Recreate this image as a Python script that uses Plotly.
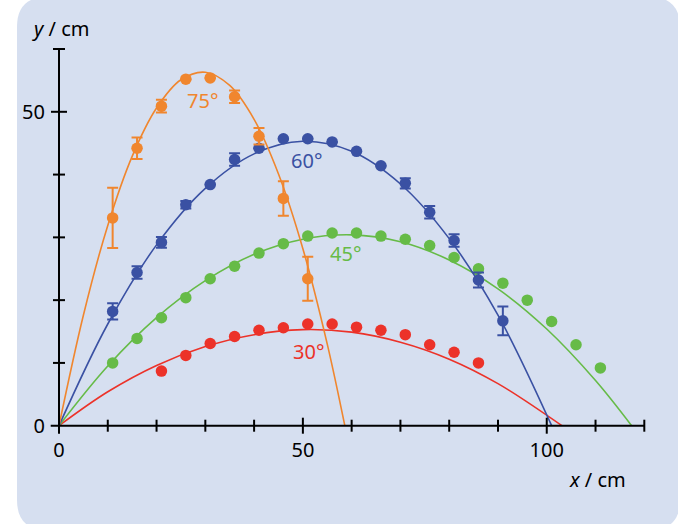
import plotly.graph_objects as go

# measured data points (x in cm, y in cm)
x_75 = [11, 16, 21, 26, 31, 36, 41, 46, 51]
y_75 = [33.1, 44.2, 50.9, 55.2, 55.4, 52.4, 46.1, 36.2, 23.4]
e_75 = [4.8, 1.7, 1.0, None, None, 1.0, 1.3, 2.75, 3.5]

x_60 = [11, 16, 21, 26, 31, 36, 41, 46, 51, 56, 61, 66, 71, 76, 81, 86, 91]
y_60 = [18.2, 24.4, 29.2, 35.2, 38.4, 42.4, 44.2, 45.7, 45.7, 45.2, 43.7,
        41.4, 38.6, 34.0, 29.5, 23.2, 16.7]
e_60 = [1.3, 1.0, 0.85, 0.6, None, 1.0, None, None, None, None, None,
        None, 0.8, 1.0, 1.0, 1.2, 2.3]

x_45 = [11, 16, 21, 26, 31, 36, 41, 46, 51, 56, 61, 66, 71, 76, 81, 86,
        91, 96, 101, 106, 111]
y_45 = [10.0, 13.9, 17.2, 20.4, 23.4, 25.4, 27.5, 29.0, 30.2, 30.7, 30.7,
        30.2, 29.7, 28.7, 26.8, 25.0, 22.7, 20.0, 16.6, 12.9, 9.2]

x_30 = [21, 26, 31, 36, 41, 46, 51, 56, 61, 66, 71, 76, 81, 86]
y_30 = [8.7, 11.2, 13.1, 14.2, 15.2, 15.6, 16.2, 16.2, 15.7, 15.2, 14.5,
        12.9, 11.7, 10.0]

# fitted trajectories
cx_75 = [0, 5, 10, 15, 20, 25, 30, 35, 40, 45, 50, 55, 58.6]
cy_75 = [0, 17.6, 31.9, 42.9, 50.6, 55.1, 56.3, 54.2, 48.8, 40.1, 28.2, 13.0, 0]
cx_60 = [0, 10, 20, 30, 40, 50, 60, 70, 80, 90, 101]
cy_60 = [0, 16.2, 28.8, 37.8, 43.3, 45.3, 43.7, 38.5, 29.8, 17.6, 0]
cx_45 = [0, 10, 20, 30, 40, 50, 60, 70, 80, 90, 100, 110, 117.4]
cy_45 = [0, 9.5, 17.2, 23.1, 27.3, 29.7, 30.4, 29.3, 26.4, 21.8, 15.4, 7.2, 0]
cx_30 = [0, 10, 20, 30, 40, 50, 60, 70, 80, 90, 103.1]
cy_30 = [0, 5.4, 9.6, 12.6, 14.5, 15.3, 14.9, 13.3, 10.6, 6.7, 0]

angle_labels = ["75°", "60°", "45°", "30°"]
label_x = [29.4, 50.8, 58.8, 51.1]
label_y = [51.8, 42.2, 27.5, 11.8]

x_ticks = [10, 20, 30, 40, 50, 60, 70, 80, 90, 100, 110, 120]
y_ticks = [10, 20, 30, 40, 50, 60]
x_ticklabels = [0, 50, 100]
y_ticklabels = [0, 50]

ORANGE = "#F0862E"
BLUE = "#3A51A3"
GREEN = "#66BB47"
RED = "#EC3229"
CARD = "#D6DFF0"
FONT = "Noto Sans"

W, H = 678, 524
ML, MR, MT, MB = 46, 29, 43, 88
X0PX, SX = 59.0, 4.8775      # pixel of x=0, pixels per cm
Y0PX, SY = 425.7, 6.278      # pixel of y=0, pixels per cm
xr = [(ML - X0PX) / SX, (W - MR - X0PX) / SX]
yr = [(Y0PX - (H - MB)) / SY, (Y0PX - MT) / SY]
PW, PH = W - ML - MR, H - MT - MB


def px(xp):
    return (xp - ML) / PW


def py(yp):
    return (H - MB - yp) / PH


fig = go.Figure()

series = [
    (cx_30, cy_30, x_30, y_30, None, RED),
    (cx_45, cy_45, x_45, y_45, None, GREEN),
    (cx_60, cy_60, x_60, y_60, e_60, BLUE),
    (cx_75, cy_75, x_75, y_75, e_75, ORANGE),
]
for cx, cy, mx, my, err, col in series:
    fig.add_trace(go.Scatter(x=cx, y=cy, mode="lines",
                             line=dict(color=col, width=1.6, shape="spline", smoothing=1.0),
                             hoverinfo="skip", showlegend=False, cliponaxis=False))
for cx, cy, mx, my, err, col in series:
    ey = dict(type="data", array=err, visible=True, color=col,
              thickness=2, width=5.5) if err else None
    fig.add_trace(go.Scatter(x=mx, y=my, mode="markers",
                             marker=dict(color=col, size=11.5),
                             error_y=ey, showlegend=False, cliponaxis=False))

# axis lines and tick marks
shapes = [
    dict(type="line", xref="x", yref="y", x0=-1.7, x1=120, y0=0, y1=0,
         line=dict(color="black", width=2)),
    dict(type="line", xref="x", yref="y", x0=0, x1=0, y0=-1.3, y1=60,
         line=dict(color="black", width=2)),
]
for t in x_ticks:
    h = 8 if t % 50 == 0 else 6
    shapes.append(dict(type="line", xref="x", yref="y", ysizemode="pixel",
                       yanchor=0, x0=t, x1=t, y0=-h, y1=h,
                       line=dict(color="black", width=2)))
for t in y_ticks:
    h = 8 if t % 50 == 0 else 6
    shapes.append(dict(type="line", xref="x", yref="y", xsizemode="pixel",
                       xanchor=0, y0=t, y1=t, x0=-h, x1=h,
                       line=dict(color="black", width=2)))

# rounded background card
cl, cr, ct, cb, rad = 17, 680, -3, 530, 30
rx, ry = rad / PW, rad / PH
L, R, T, B = px(cl), px(cr), py(ct), py(cb)
path = (f"M {L + rx},{T} L {R - rx},{T} Q {R},{T} {R},{T - ry} "
        f"L {R},{B + ry} Q {R},{B} {R - rx},{B} L {L + rx},{B} "
        f"Q {L},{B} {L},{B + ry} L {L},{T - ry} Q {L},{T} {L + rx},{T} Z")
shapes.insert(0, dict(type="path", xref="paper", yref="paper", path=path,
                      fillcolor=CARD, line=dict(width=0), layer="below"))

annotations = []
for txt, lx, ly, col in zip(angle_labels, label_x, label_y, [ORANGE, BLUE, GREEN, RED]):
    annotations.append(dict(x=lx, y=ly, xref="x", yref="y", text=txt,
                            showarrow=False, xanchor="center", yanchor="middle",
                            font=dict(color=col, size=20, family=FONT)))
annotations.append(dict(x=px(60.5), y=py(28), xref="paper", yref="paper",
                        text="<i>y</i> / cm", showarrow=False,
                        xanchor="center", yanchor="middle",
                        font=dict(size=20, color="black", family=FONT)))
annotations.append(dict(x=px(597), y=py(480), xref="paper", yref="paper",
                        text="<i>x</i> / cm", showarrow=False,
                        xanchor="center", yanchor="middle",
                        font=dict(size=20, color="black", family=FONT)))

fig.update_layout(
    width=W, height=H,
    margin=dict(l=ML, r=MR, t=MT, b=MB, pad=0),
    paper_bgcolor="white",
    plot_bgcolor="rgba(0,0,0,0)",
    font=dict(family=FONT, size=20, color="black"),
    shapes=shapes,
    annotations=annotations,
    showlegend=False,
    xaxis=dict(range=xr, showgrid=False, zeroline=False, showline=False,
               ticks="", tickvals=x_ticklabels, automargin=False,
               tickfont=dict(size=20, family=FONT)),
    yaxis=dict(range=yr, showgrid=False, zeroline=False, showline=False,
               ticks="", tickvals=y_ticklabels, automargin=False,
               tickfont=dict(size=20, family=FONT)),
)

fig.write_html("out.html", config={"displayModeBar": False},
               post_script="document.body.style.margin='0';")
